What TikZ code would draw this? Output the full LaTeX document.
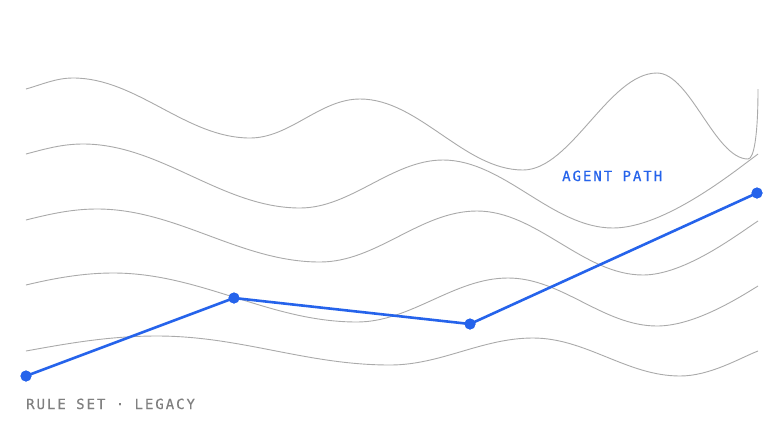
\documentclass[tikz,border=0pt]{standalone}
\usepackage{fontspec}
\newfontfamily\labelfont[LetterSpace=14,FakeBold=0.5]{DejaVu Sans Mono}
\definecolor{pathblue}{HTML}{2563EB}
\definecolor{wavegray}{HTML}{AAAAAA}
\definecolor{textgray}{HTML}{808080}
\begin{document}
\begin{tikzpicture}[x=1pt,y=-1pt,
  wave/.style={draw=wavegray,line width=0.9pt},
  agent/.style={draw=pathblue,line width=2.6pt},
  waypoint/.style={circle,fill=pathblue,inner sep=0pt,minimum size=11pt},
  lbl/.style={anchor=base west,inner sep=0pt,font=\labelfont\fontsize{14}{16}\selectfont}]
\useasboundingbox (0,0) rectangle (784,440);
\fill[white] (0,0) rectangle (784,440);
% waves
\draw[wave] (26,89) .. controls (42,84.5) and (56,78) .. (73,78)
  .. controls (137,78) and (186,138) .. (250,138)
  .. controls (290,138) and (320,99) .. (360,99)
  .. controls (419,99) and (464,170) .. (523,170)
  .. controls (571,170) and (609,73) .. (657,73)
  .. controls (690,73) and (715,159) .. (748,159)
  .. controls (754,159) and (758,135) .. (758,89);
\draw[wave] (26,154) .. controls (45,149) and (62,144) .. (83,144)
  .. controls (161,144) and (222,208) .. (300,208)
  .. controls (351,208) and (392,160) .. (443,160)
  .. controls (504,160) and (552,228) .. (613,228)
  .. controls (665,228) and (735,171) .. (758,154);
\draw[wave] (26,220) .. controls (50,214) and (72,209) .. (97,209)
  .. controls (177,209) and (240,262) .. (320,262)
  .. controls (377,262) and (420,211) .. (477,211)
  .. controls (537,211) and (583,275) .. (643,275)
  .. controls (685,275) and (738,234) .. (758,221);
\draw[wave] (26,285) .. controls (55,278) and (84,273) .. (113,273)
  .. controls (201,273) and (269,322) .. (357,322)
  .. controls (411,322) and (454,278) .. (508,278)
  .. controls (562,278) and (603,326) .. (657,326)
  .. controls (695,326) and (740,297) .. (758,286);
\draw[wave] (26,351) .. controls (70,343) and (110,336) .. (157,336)
  .. controls (241,336) and (306,365) .. (390,365)
  .. controls (441,365) and (482,338) .. (533,338)
  .. controls (586,338) and (627,376) .. (680,376)
  .. controls (710,376) and (740,358) .. (758,351);
% agent path
\node[waypoint] (p1) at (26,376) {};
\node[waypoint] (p2) at (234,298) {};
\node[waypoint] (p3) at (470,324) {};
\node[waypoint] (p4) at (757,193) {};
\draw[agent] (p1.center) -- (p2.center) -- (p3.center) -- (p4.center);
\node[waypoint] at (p1) {};
\node[waypoint] at (p2) {};
\node[waypoint] at (p3) {};
\node[waypoint] at (p4) {};
% labels
\node[lbl,text=pathblue] (agentlabel) at (562,181) {AGENT PATH};
\node[lbl,text=textgray] (rulelabel) at (26,409) {RULE SET · LEGACY};
\end{tikzpicture}
\end{document}
